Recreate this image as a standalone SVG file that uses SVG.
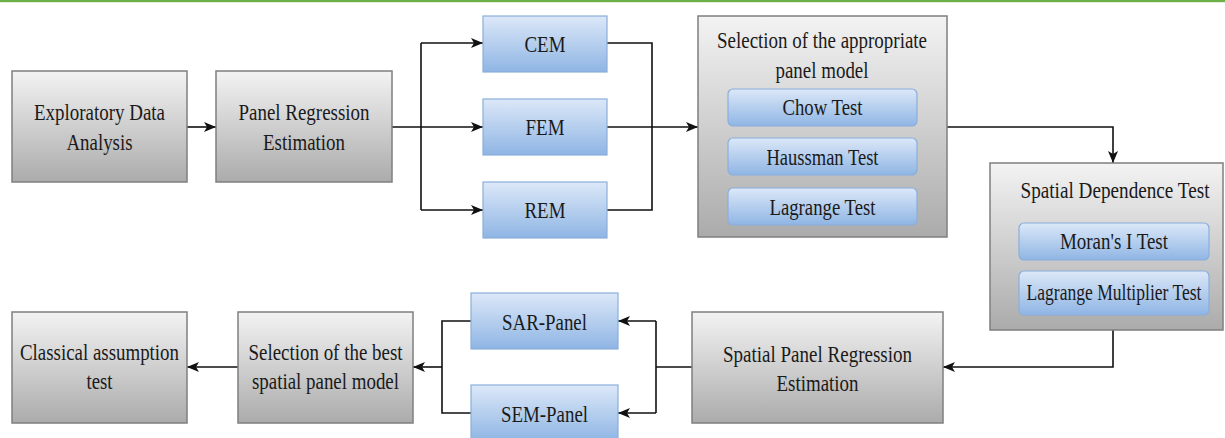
<svg xmlns="http://www.w3.org/2000/svg" width="1225" height="438" viewBox="0 0 1225 438">
<defs>
<linearGradient id="gGray" x1="0" y1="0" x2="0" y2="1">
<stop offset="0" stop-color="#f3f3f3"/>
<stop offset="1" stop-color="#ababab"/>
</linearGradient>
<linearGradient id="gBlue" x1="0" y1="0" x2="0" y2="1">
<stop offset="0" stop-color="#dce8f8"/>
<stop offset="1" stop-color="#8fb5e4"/>
</linearGradient>
<marker id="arr" viewBox="0 0 12 10" refX="12" refY="5" markerWidth="12" markerHeight="10" markerUnits="userSpaceOnUse" orient="auto">
<path d="M0,0 L12,5 L0,10 L3,5 Z" fill="#111"/>
</marker>
<style>
.gray{fill:url(#gGray);stroke:#7f7f7f;stroke-width:1.5}
.blue{fill:url(#gBlue);stroke:#8aaedb;stroke-width:1.2}
text{font-family:'Liberation Serif','Times New Roman',serif;font-size:24px;fill:#1a1a1a;text-anchor:middle}
.c{fill:none;stroke:#111;stroke-width:1.6}
.a{marker-end:url(#arr)}
</style>
</defs>
<rect x="0" y="0" width="1225" height="438" fill="#fff"/>
<rect x="0" y="0" width="1225" height="2.2" fill="#6daf48"/>

<g id="connectors">
<path class="c a" d="M187,127 H216"/>
<path class="c" d="M392,127 H421 M421,43 V210"/>
<path class="c a" d="M421,43 H483"/>
<path class="c a" d="M421,127 H483"/>
<path class="c a" d="M421,210 H483"/>
<path class="c" d="M607,43 H652 V210 H607"/>
<path class="c a" d="M607,127 H698"/>
<path class="c a" d="M947,127 H1113 V163"/>
<path class="c a" d="M1113,330 V367 H943"/>
<path class="c" d="M692,367 H656 M656,321 V413"/>
<path class="c a" d="M656,321 H618"/>
<path class="c a" d="M656,413 H618"/>
<path class="c" d="M471,321 H442 V413 H471"/>
<path class="c a" d="M442,367 H413"/>
<path class="c a" d="M238,367 H187"/>
</g>

<g id="n-eda">
<rect class="gray" x="12" y="71" width="175" height="111"/>
<text x="99.5" y="120" textLength="131" lengthAdjust="spacingAndGlyphs">Exploratory Data</text>
<text x="99.5" y="150" textLength="66" lengthAdjust="spacingAndGlyphs">Analysis</text>
</g>
<g id="n-pre">
<rect class="gray" x="216" y="71" width="176" height="111"/>
<text x="304" y="120" textLength="131" lengthAdjust="spacingAndGlyphs">Panel Regression</text>
<text x="304" y="150" textLength="82" lengthAdjust="spacingAndGlyphs">Estimation</text>
</g>
<g id="n-cem">
<rect class="blue" x="483" y="16" width="124" height="56"/>
<text x="545" y="52" textLength="41" lengthAdjust="spacingAndGlyphs">CEM</text>
</g>
<g id="n-fem">
<rect class="blue" x="483" y="99" width="124" height="56"/>
<text x="545" y="135" textLength="39" lengthAdjust="spacingAndGlyphs">FEM</text>
</g>
<g id="n-rem">
<rect class="blue" x="483" y="182" width="124" height="56"/>
<text x="545" y="218" textLength="41" lengthAdjust="spacingAndGlyphs">REM</text>
</g>
<g id="n-select-panel">
<rect class="gray" x="698" y="16" width="249" height="221"/>
<text x="822" y="48" textLength="210" lengthAdjust="spacingAndGlyphs">Selection of the appropriate</text>
<text x="822" y="78" textLength="93" lengthAdjust="spacingAndGlyphs">panel model</text>
<rect class="blue" x="728" y="89" width="189" height="37" rx="5"/>
<text x="822.5" y="115" textLength="80" lengthAdjust="spacingAndGlyphs">Chow Test</text>
<rect class="blue" x="728" y="138" width="189" height="37" rx="5"/>
<text x="822.5" y="165" textLength="112" lengthAdjust="spacingAndGlyphs">Haussman Test</text>
<rect class="blue" x="728" y="188" width="189" height="37" rx="5"/>
<text x="822.5" y="215" textLength="106" lengthAdjust="spacingAndGlyphs">Lagrange Test</text>
</g>
<g id="n-spatial-dep">
<rect class="gray" x="990" y="163" width="233" height="167"/>
<text x="1115" y="198" textLength="189" lengthAdjust="spacingAndGlyphs">Spatial Dependence Test</text>
<rect class="blue" x="1019" y="223" width="190" height="37" rx="5"/>
<text x="1114" y="249" textLength="108" lengthAdjust="spacingAndGlyphs">Moran's I Test</text>
<rect class="blue" x="1019" y="271" width="190" height="44" rx="5"/>
<text x="1114" y="300" textLength="175" lengthAdjust="spacingAndGlyphs">Lagrange Multiplier Test</text>
</g>
<g id="n-spre">
<rect class="gray" x="692" y="312" width="251" height="111"/>
<text x="817.5" y="362" textLength="189" lengthAdjust="spacingAndGlyphs">Spatial Panel Regression</text>
<text x="817.5" y="391" textLength="82" lengthAdjust="spacingAndGlyphs">Estimation</text>
</g>
<g id="n-sar">
<rect class="blue" x="471" y="293" width="147" height="56"/>
<text x="544.5" y="330" textLength="85" lengthAdjust="spacingAndGlyphs">SAR-Panel</text>
</g>
<g id="n-sem">
<rect class="blue" x="471" y="385" width="147" height="56"/>
<text x="544.5" y="422" textLength="87" lengthAdjust="spacingAndGlyphs">SEM-Panel</text>
</g>
<g id="n-select-best">
<rect class="gray" x="238" y="312" width="175" height="111"/>
<text x="325.5" y="360" textLength="154" lengthAdjust="spacingAndGlyphs">Selection of the best</text>
<text x="325.5" y="389" textLength="147" lengthAdjust="spacingAndGlyphs">spatial panel model</text>
</g>
<g id="n-classical">
<rect class="gray" x="12" y="312" width="175" height="111"/>
<text x="99.5" y="360" textLength="159" lengthAdjust="spacingAndGlyphs">Classical assumption</text>
<text x="99.5" y="389" textLength="26" lengthAdjust="spacingAndGlyphs">test</text>
</g>
</svg>
